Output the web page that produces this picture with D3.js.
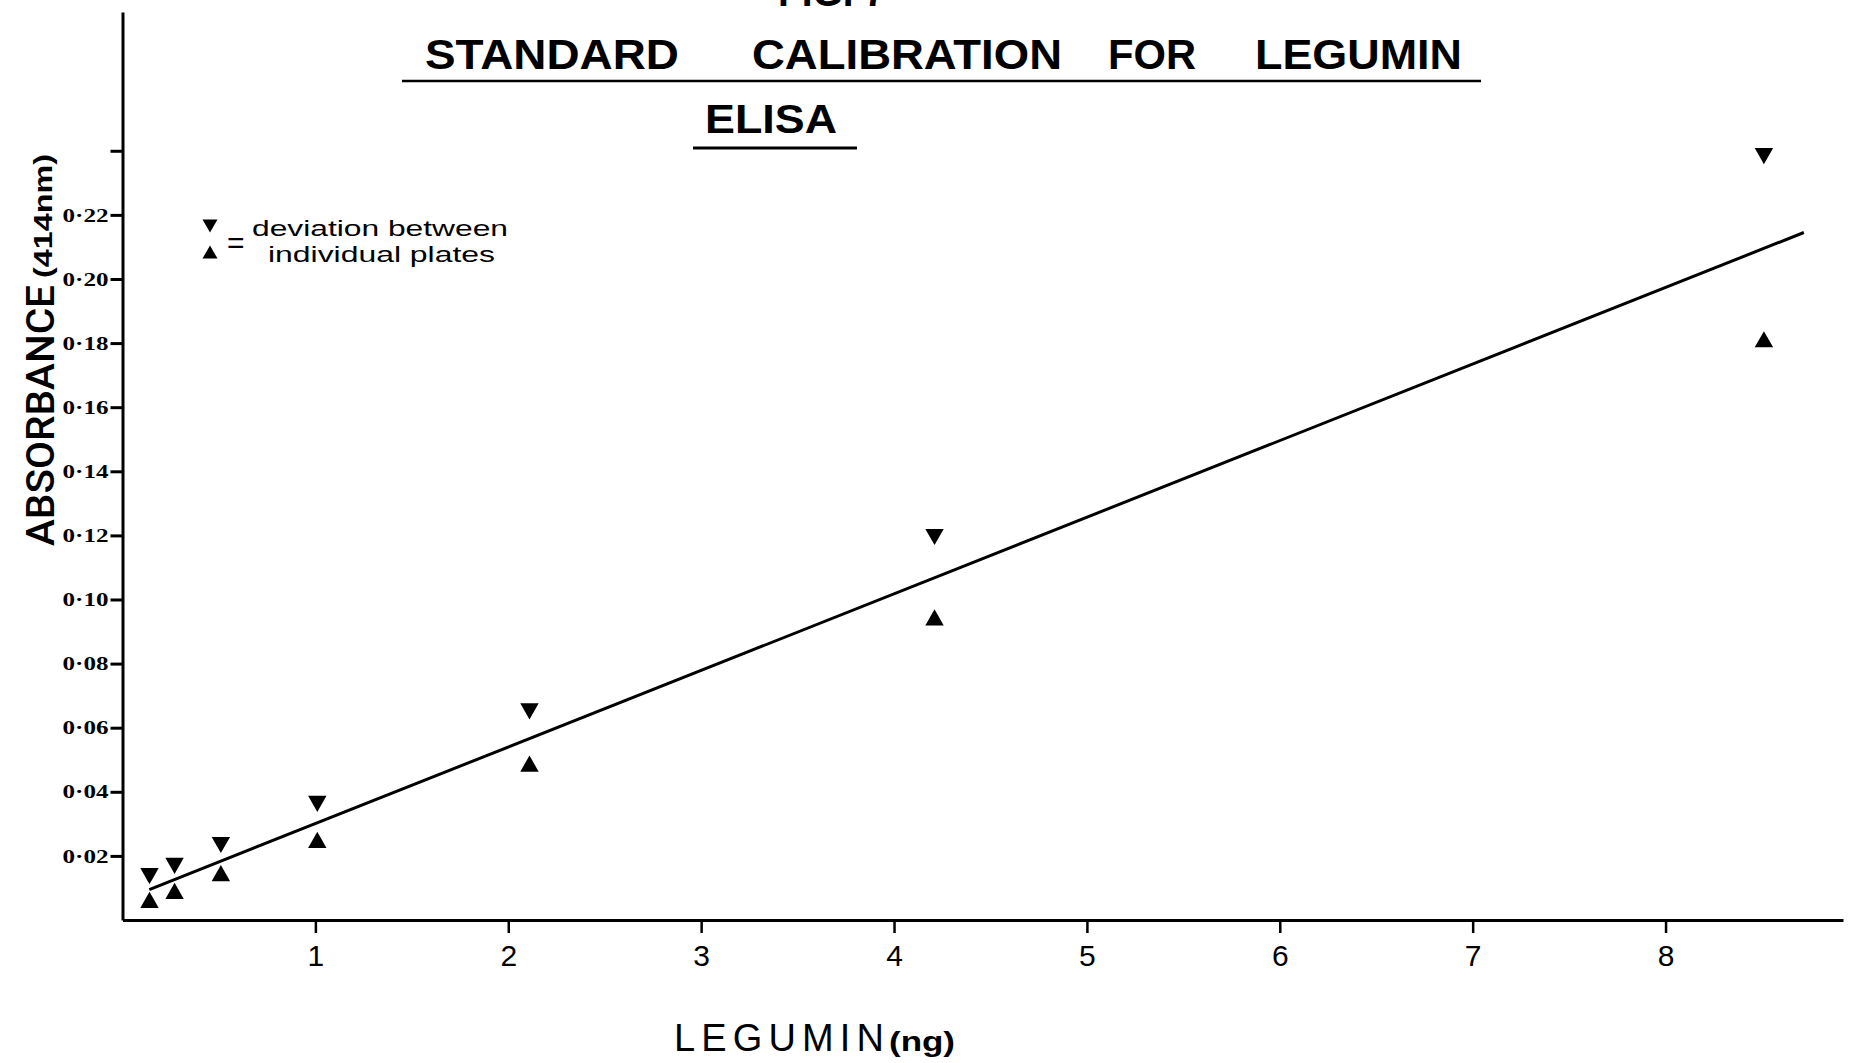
<!DOCTYPE html>
<html>
<head>
<meta charset="utf-8">
<script src="https://cdnjs.cloudflare.com/ajax/libs/d3/7.8.5/d3.min.js"></script>
<style>
  body { margin: 0; background: #fff; }
  svg { display: block; }
</style>
</head>
<body>
<script>
//----------------------------
// data
//----------------------------
// legumin amount (ng)
var legumin = [0.14, 0.27, 0.51, 1.01, 2.11, 4.21, 8.51];
// upper plate reading (down triangle)
var absUpper = [0.0137, 0.0169, 0.0234, 0.0362, 0.0651, 0.1195, 0.2383];
// lower plate reading (up triangle)
var absLower = [0.0063, 0.0091, 0.0146, 0.025, 0.0488, 0.0944, 0.1812];
// fitted calibration line end points
var fitX = [0.139, 8.717];
var fitY = [0.0095, 0.2145];

var xTicks = [1, 2, 3, 4, 5, 6, 7, 8];
var yTicks = [0.02, 0.04, 0.06, 0.08, 0.1, 0.12, 0.14, 0.16, 0.18, 0.2, 0.22, 0.24];
var yTickLabels = ["0·02", "0·04", "0·06", "0·08", "0·10", "0·12", "0·14", "0·16", "0·18", "0·20", "0·22", ""];

var titleWords = ["STANDARD", "CALIBRATION", "FOR", "LEGUMIN"];
var legendLines = ["deviation between", "individual plates"];

var width = 1861;
var height = 1063;

var svg = d3
  .select("body")
  .append("svg")
  .attr("width", width)
  .attr("height", height);

// scales - axis lines run past the last tick like the drawing
var x = d3.scaleLinear().domain([0, 8.92]).range([122.5, 1843]);
var y = d3.scaleLinear().domain([0, 0.2833]).range([920, 12]);

// triangles measured by their box centre, not centroid
var triDown = {
  draw: function(context, size) {
    var w = Math.sqrt(size);
    var h = w * 0.88;
    context.moveTo(-w / 2, -h / 2);
    context.lineTo(w / 2, -h / 2);
    context.lineTo(0, h / 2);
    context.closePath();
  }
};
var triUp = {
  draw: function(context, size) {
    var w = Math.sqrt(size);
    var h = w * 0.88;
    context.moveTo(-w / 2, h / 2);
    context.lineTo(w / 2, h / 2);
    context.lineTo(0, -h / 2);
    context.closePath();
  }
};

//----------------------------
// axes
//----------------------------
var xAxis = d3
  .axisBottom(x)
  .tickValues(xTicks)
  .tickSize(13)
  .tickSizeOuter(0)
  .tickPadding(12)
  .tickFormat(d3.format("d"));

var gx = svg
  .append("g")
  .attr("transform", "translate(0," + y(0) + ")")
  .call(xAxis);

gx.select(".domain").attr("stroke", "#000").attr("stroke-width", 3);
gx.selectAll(".tick line").attr("stroke", "#000").attr("stroke-width", 2.5);
gx.selectAll(".tick text")
  .attr("fill", "#000")
  .attr("font-family", "Liberation Sans Narrow, Liberation Sans, Arial, sans-serif")
  .attr("font-size", 30);

var yAxis = d3
  .axisLeft(y)
  .tickValues(yTicks)
  .tickSize(12)
  .tickSizeOuter(0)
  .tickPadding(2)
  .tickFormat(function(d, i) {
    return yTickLabels[i];
  });

var gy = svg
  .append("g")
  .attr("transform", "translate(" + x(0) + ",0)")
  .call(yAxis);

gy.select(".domain").attr("stroke", "#000").attr("stroke-width", 3);
gy.selectAll(".tick line").attr("stroke", "#000").attr("stroke-width", 3);
gy.selectAll(".tick text")
  .attr("fill", "#000")
  .attr("font-family", "Liberation Serif, DejaVu Serif, serif")
  .attr("font-weight", "bold")
  .attr("font-size", 18)
  .attr("dy", "0.34em")
  .each(function(d, i) {
    if (yTickLabels[i] !== "") {
      d3.select(this).attr("textLength", 46).attr("lengthAdjust", "spacingAndGlyphs");
    }
  });

//----------------------------
// fitted line + points
//----------------------------
var fitLine = d3
  .line()
  .x(function(d) {
    return x(d[0]);
  })
  .y(function(d) {
    return y(d[1]);
  });

svg
  .append("path")
  .datum(d3.zip(fitX, fitY))
  .attr("d", fitLine)
  .attr("fill", "none")
  .attr("stroke", "#000")
  .attr("stroke-width", 3);

var upperPts = d3.zip(legumin, absUpper);
var lowerPts = d3.zip(legumin, absLower);

svg
  .selectAll(".upper")
  .data(upperPts)
  .enter()
  .append("path")
  .attr("class", "upper")
  .attr("d", d3.symbol().type(triDown).size(340))
  .attr("transform", function(d) {
    return "translate(" + x(d[0]) + "," + y(d[1]) + ")";
  })
  .attr("fill", "#000");

svg
  .selectAll(".lower")
  .data(lowerPts)
  .enter()
  .append("path")
  .attr("class", "lower")
  .attr("d", d3.symbol().type(triUp).size(340))
  .attr("transform", function(d) {
    return "translate(" + x(d[0]) + "," + y(d[1]) + ")";
  })
  .attr("fill", "#000");

//----------------------------
// titles
//----------------------------
var titleX = [425, 752, 1108, 1255];
var titleW = [254, 310, 88, 207];

svg
  .selectAll(".title-word")
  .data(titleWords)
  .enter()
  .append("text")
  .attr("class", "title-word")
  .attr("x", function(d, i) {
    return titleX[i];
  })
  .attr("y", 69)
  .attr("textLength", function(d, i) {
    return titleW[i];
  })
  .attr("lengthAdjust", "spacingAndGlyphs")
  .attr("font-family", "Liberation Sans, Arial, sans-serif")
  .attr("font-weight", "bold")
  .attr("font-size", 42)
  .text(function(d) {
    return d;
  });

// figure number, cut by the top edge as in the scan
svg
  .append("text")
  .attr("x", 778)
  .attr("y", 6)
  .attr("textLength", 108)
  .attr("lengthAdjust", "spacingAndGlyphs")
  .attr("font-family", "Liberation Sans, Arial, sans-serif")
  .attr("font-weight", "bold")
  .attr("font-size", 42)
  .text("FIG. 7");

svg
  .append("line")
  .attr("x1", 402)
  .attr("x2", 1481)
  .attr("y1", 81)
  .attr("y2", 81)
  .attr("stroke", "#000")
  .attr("stroke-width", 2.5);

svg
  .append("text")
  .attr("x", 705)
  .attr("y", 133)
  .attr("textLength", 132)
  .attr("lengthAdjust", "spacingAndGlyphs")
  .attr("font-family", "Liberation Sans, Arial, sans-serif")
  .attr("font-weight", "bold")
  .attr("font-size", 40)
  .text("ELISA");

svg
  .append("line")
  .attr("x1", 693)
  .attr("x2", 857)
  .attr("y1", 148)
  .attr("y2", 148)
  .attr("stroke", "#000")
  .attr("stroke-width", 3);

//----------------------------
// axis titles
//----------------------------
svg
  .append("text")
  .attr("transform", "translate(54,546) rotate(-90)")
  .attr("textLength", 261)
  .attr("lengthAdjust", "spacingAndGlyphs")
  .attr("font-family", "Roboto, Liberation Sans, sans-serif")
  .attr("font-weight", 500)
  .attr("font-size", 38)
  .text("ABSORBANCE");

svg
  .append("text")
  .attr("transform", "translate(52,278) rotate(-90)")
  .attr("textLength", 124)
  .attr("lengthAdjust", "spacingAndGlyphs")
  .attr("font-family", "Liberation Sans, Arial, sans-serif")
  .attr("font-weight", "bold")
  .attr("font-size", 25)
  .text("(414nm)");

svg
  .append("text")
  .attr("x", 674)
  .attr("y", 1051)
  .attr("textLength", 210)
  .attr("lengthAdjust", "spacing")
  .attr("font-family", "Liberation Sans Narrow, Liberation Sans, Arial, sans-serif")
  .attr("font-size", 38)
  .text("LEGUMIN");

svg
  .append("text")
  .attr("x", 889)
  .attr("y", 1051)
  .attr("textLength", 66)
  .attr("lengthAdjust", "spacingAndGlyphs")
  .attr("font-family", "Liberation Sans, Arial, sans-serif")
  .attr("font-weight", "bold")
  .attr("font-size", 28)
  .text("(ng)");

//----------------------------
// legend
//----------------------------
svg
  .append("path")
  .attr("d", d3.symbol().type(triDown).size(225))
  .attr("transform", "translate(210,226)");

svg
  .append("path")
  .attr("d", d3.symbol().type(triUp).size(225))
  .attr("transform", "translate(210,252)");

svg
  .append("text")
  .attr("x", 227)
  .attr("y", 253)
  .attr("font-family", "Liberation Sans, Arial, sans-serif")
  .attr("font-size", 30)
  .text("=");

// the two legend lines, set tight like the typed original
var legendX = [252, 268];
var legendY = [236, 262];
var legendW = [256, 227];

svg
  .selectAll(".legend-line")
  .data(legendLines)
  .enter()
  .append("text")
  .attr("class", "legend-line")
  .attr("x", function(d, i) {
    return legendX[i];
  })
  .attr("y", function(d, i) {
    return legendY[i];
  })
  .attr("textLength", function(d, i) {
    return legendW[i];
  })
  .attr("lengthAdjust", "spacingAndGlyphs")
  .attr("font-family", "Liberation Sans, Arial, sans-serif")
  .attr("font-size", 22)
  .text(function(d) {
    return d;
  });
</script>
</body>
</html>
